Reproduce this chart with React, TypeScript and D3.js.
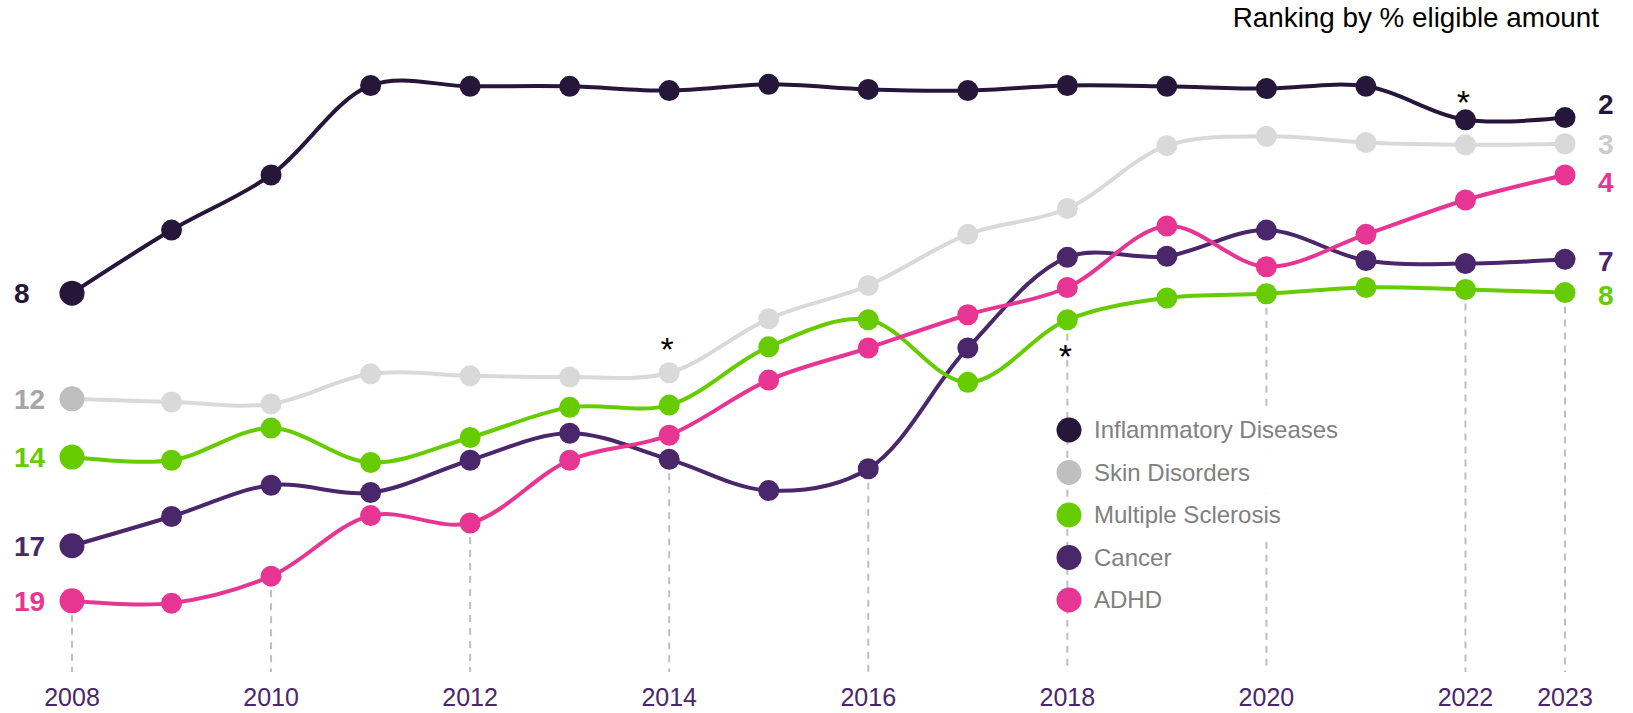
import React from 'react';
import * as d3 from 'd3';

// years on the x axis
const years = [2008, 2009, 2010, 2011, 2012, 2013, 2014, 2015, 2016, 2017, 2018, 2019, 2020, 2021, 2022, 2023];
const tickYears = [2008, 2010, 2012, 2014, 2016, 2018, 2020, 2022, 2023];

// smoothed rank position per year (lower = better)
const inflammatory = [8.2, 5.98, 4.04, 0.89, 0.92, 0.92, 1.07, 0.85, 1.03, 1.07, 0.89, 0.92, 1.0, 0.92, 2.1, 2.02];
const skin = [11.92, 12.03, 12.1, 11.04, 11.11, 11.15, 11.0, 9.1, 7.93, 6.13, 5.22, 3.01, 2.68, 2.9, 2.98, 2.94];
const sclerosis = [13.97, 14.08, 12.95, 14.16, 13.28, 12.22, 12.14, 10.09, 9.14, 11.34, 9.14, 8.37, 8.22, 8.0, 8.07, 8.18];
const cancer = [17.09, 16.06, 14.96, 15.22, 14.08, 13.13, 14.05, 15.15, 14.38, 10.13, 6.94, 6.9, 5.98, 7.05, 7.16, 7.01];
const adhd = [19.03, 19.11, 18.16, 16.03, 16.29, 14.08, 13.2, 11.26, 10.13, 8.96, 8.0, 5.84, 7.27, 6.13, 4.92, 4.04];

const names = ['Inflammatory Diseases', 'Skin Disorders', 'Multiple Sclerosis', 'Cancer', 'ADHD'];
const startRanks = [8, 12, 14, 17, 19];
const endRanks = [2, 3, 8, 7, 4];

// footnote stars: [year, series index, offset]
const stars: [number, number, number][] = [
  [2014, 1, -31],
  [2018, 2, 29],
  [2022, 0, -25],
];

const W = 1633;
const H = 713;

const series = [
  {name: names[0], values: inflammatory, color: '#26163a', first: '#26163a', startColor: '#26163a', endColor: '#26163a', endDy: -14},
  {name: names[1], values: skin, color: '#d9d9d9', first: '#bfbfbf', startColor: '#a6a6a6', endColor: '#cccccc', endDy: 0},
  {name: names[2], values: sclerosis, color: '#66cc00', first: '#66cc00', startColor: '#66cc00', endColor: '#66cc00', endDy: 2},
  {name: names[3], values: cancer, color: '#4a266a', first: '#4a266a', startColor: '#4a266a', endColor: '#4a266a', endDy: 2},
  {name: names[4], values: adhd, color: '#e63592', first: '#e63592', startColor: '#e63592', endColor: '#e63592', endDy: 7},
];
const drawOrder = [1, 3, 2, 4, 0];

export default function App() {
  const x = d3.scaleLinear().domain([2008, 2023]).range([72, 1565]);
  const y = d3.scaleLinear().domain([2, 19]).range([117, 600]);

  const line = d3.line<number>()
    .x((d, i) => x(years[i]))
    .y(d => y(d))
    .curve(d3.curveCatmullRom.alpha(0.5));

  const font = '"Liberation Sans", Arial, sans-serif';
  const legendX = 1069;
  const legendY = 430;
  const legendStep = 42.5;

  return (
    <svg width={W} height={H} style={{position: 'absolute', left: 0, top: 0, fontFamily: font}}>
      <rect width={W} height={H} fill="#fff" />
      <text x={1599} y={27} textAnchor="end" fontSize={27.8} fill="#000">Ranking by % eligible amount</text>

      {tickYears.map(yr => {
        const i = years.indexOf(yr);
        const lowest = d3.max(series, s => y(s.values[i])) as number;
        return (
          <g key={yr}>
            <line x1={x(yr)} x2={x(yr)} y1={lowest + 14} y2={672} stroke="#bfbfbf" strokeWidth={2} strokeDasharray="7,6" />
            <text x={x(yr)} y={706} textAnchor="middle" fontSize={25} fill="#4a266a">{yr}</text>
          </g>
        );
      })}

      {/* legend */}
      {series.map((s, i) => (
        <g key={s.name}>
          <rect x={legendX + 22} y={legendY + i * legendStep - legendStep / 2} width={s.name.length * 13.4} height={legendStep} fill="#fff" />
          <circle cx={legendX} cy={legendY + i * legendStep} r={12.5} fill={s.first} />
          <text x={legendX + 25} y={legendY + i * legendStep} dy="0.35em" fontSize={24} fill="#808080">{s.name}</text>
        </g>
      ))}

      {drawOrder.map(k => {
        const s = series[k];
        return (
          <g key={s.name}>
            <path d={line(s.values) || ''} fill="none" stroke={s.color} strokeWidth={4} />
            {s.values.map((v, i) => (
              <circle key={i} cx={x(years[i])} cy={y(v)} r={i === 0 ? 12.5 : 10.5} fill={i === 0 ? s.first : s.color} />
            ))}
          </g>
        );
      })}

      {series.map((s, k) => (
        <g key={'lab' + k} fontWeight="bold" fontSize={28}>
          <text x={14} y={y(s.values[0])} dy="0.36em" fill={s.startColor}>{startRanks[k]}</text>
          <text x={1598} y={y(s.values[s.values.length - 1]) + s.endDy} dy="0.36em" fill={s.endColor}>{endRanks[k]}</text>
        </g>
      ))}

      {stars.map(([yr, k, off]) => {
        const i = years.indexOf(yr);
        return (
          <text key={yr} x={x(yr) - 2} y={y(series[k].values[i]) + off + 19} textAnchor="middle" fontSize={34} fill="#000">*</text>
        );
      })}
    </svg>
  );
}
